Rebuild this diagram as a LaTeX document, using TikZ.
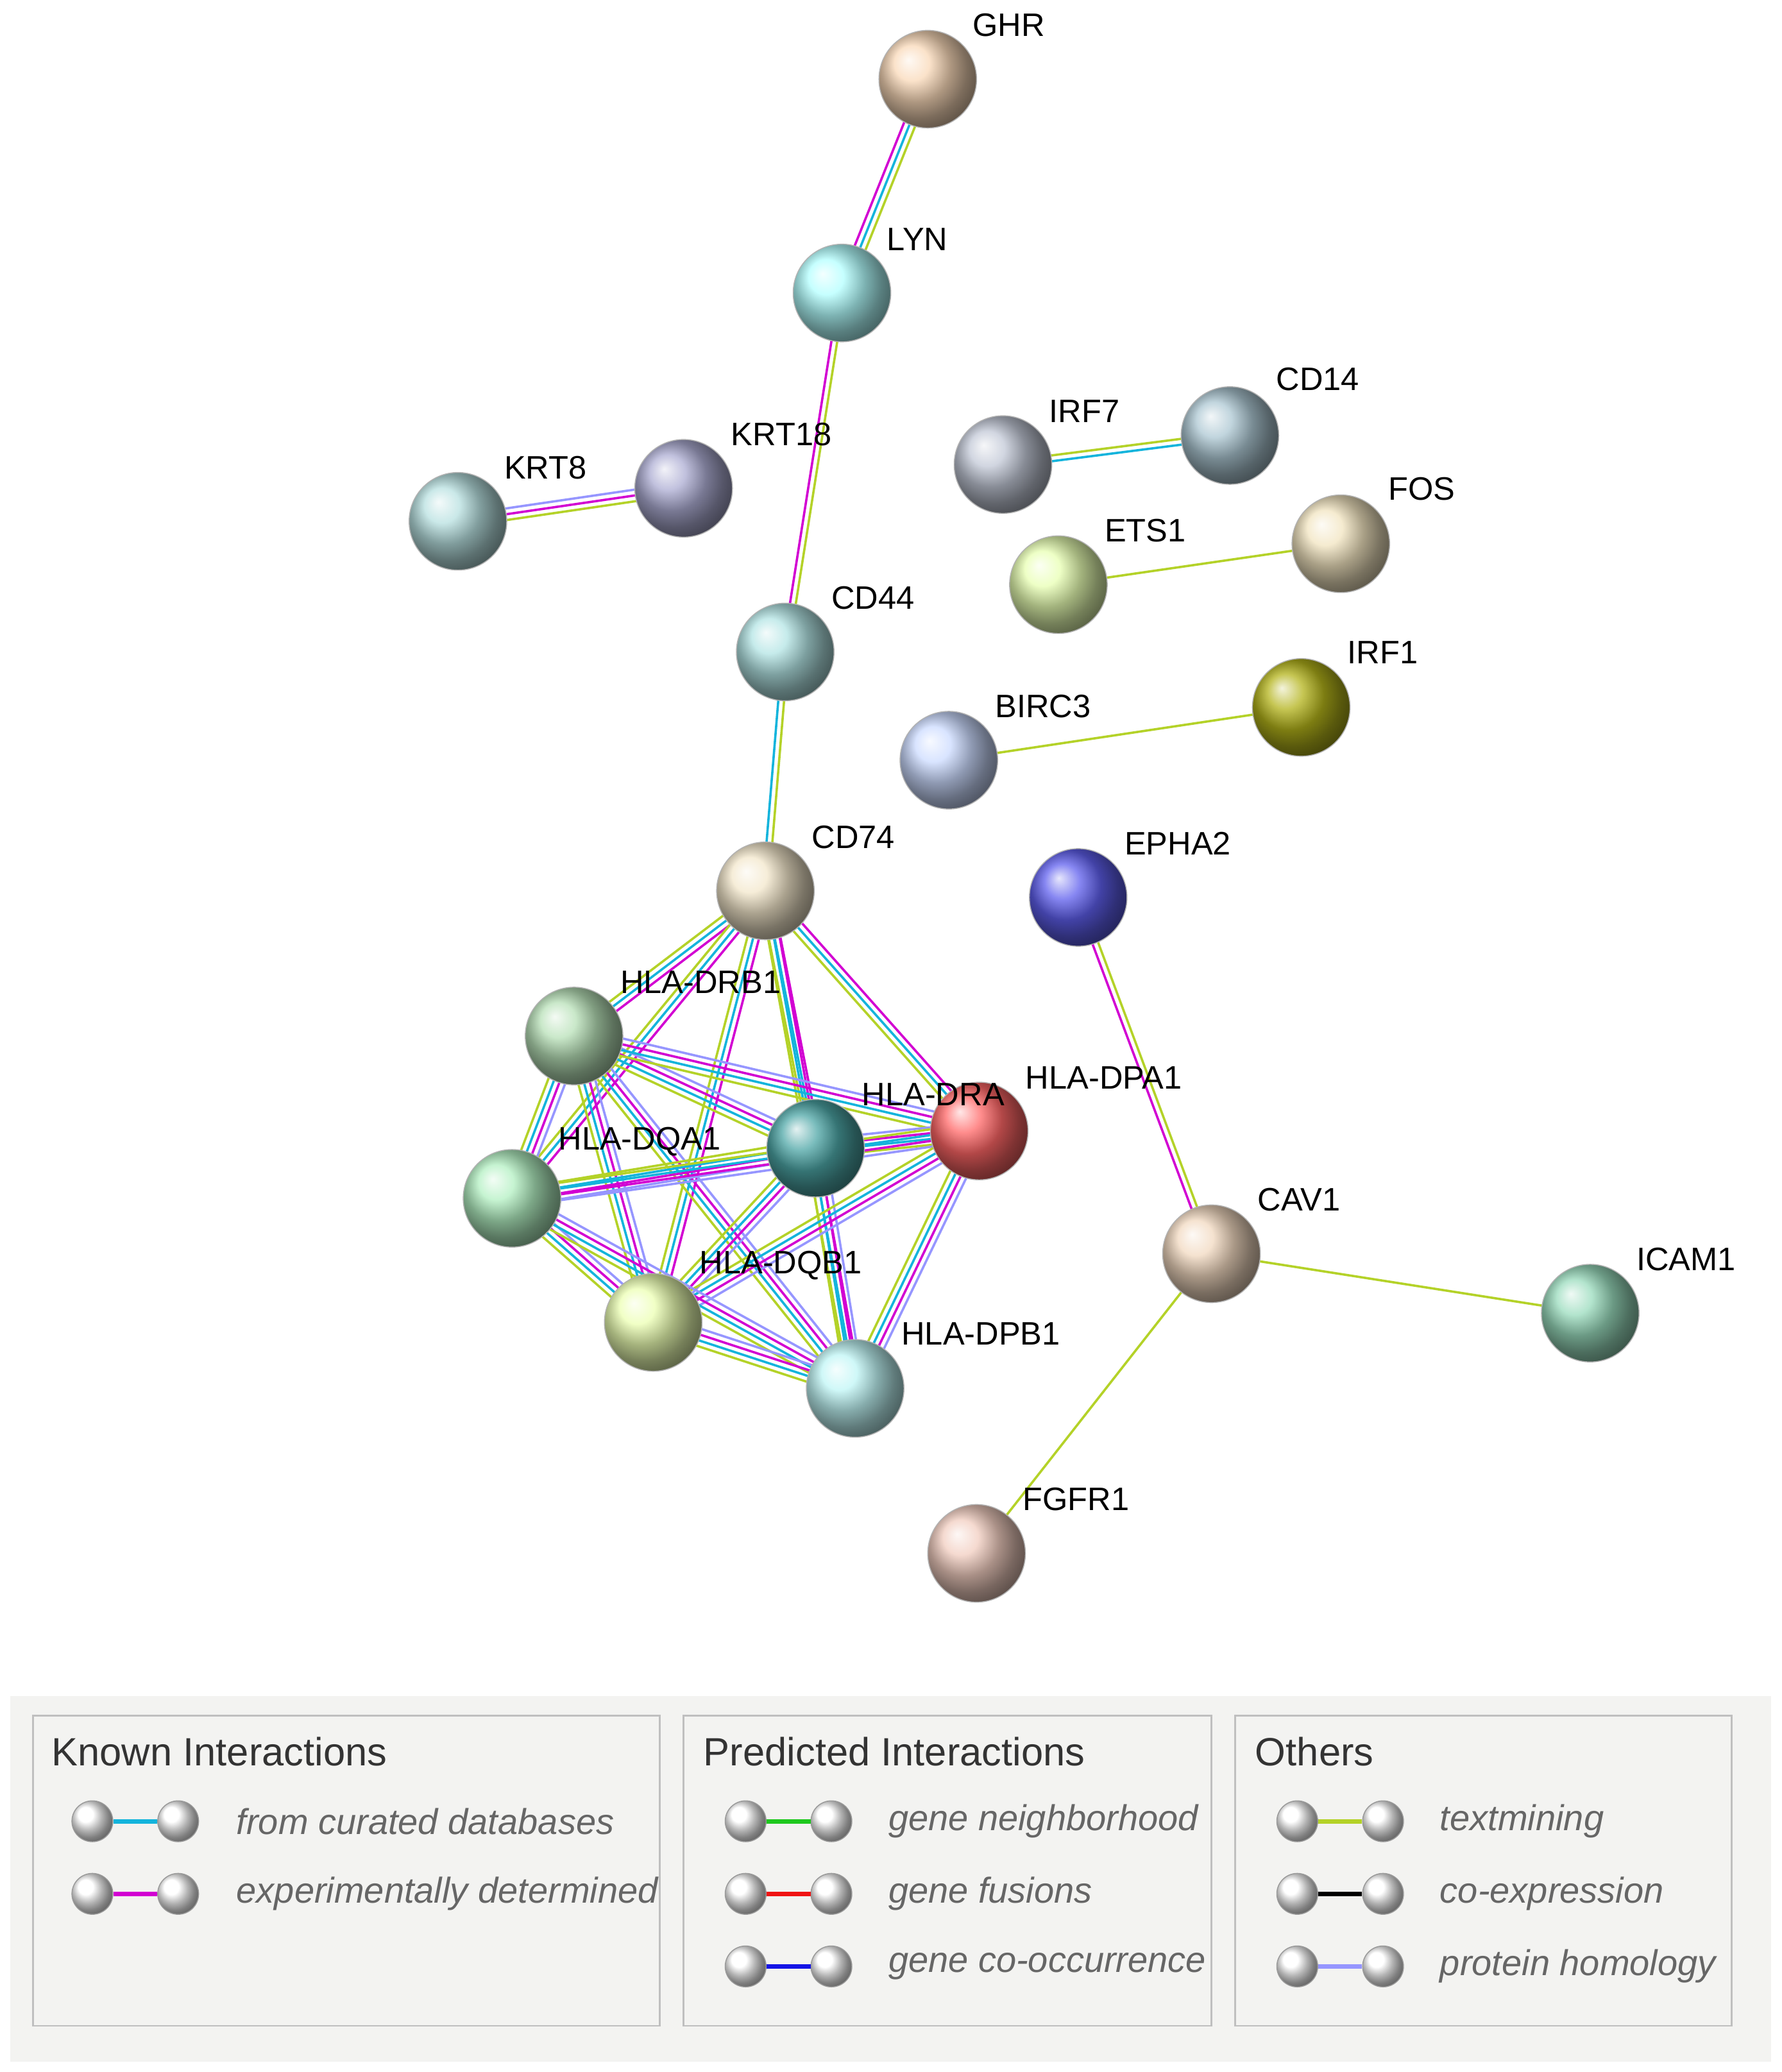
\documentclass[tikz,border=0pt]{standalone}
\usepackage{fontspec}
\setmainfont{Liberation Sans}
\usetikzlibrary{calc}
\definecolor{cur}{RGB}{20,180,220}
\definecolor{xpd}{RGB}{210,0,210}
\definecolor{tmg}{RGB}{180,210,40}
\definecolor{hom}{RGB}{150,150,255}
\definecolor{gnb}{RGB}{30,200,30}
\definecolor{gfu}{RGB}{240,20,20}
\definecolor{gco}{RGB}{20,20,230}
\definecolor{bg}{RGB}{243,243,241}
\tikzset{
 prot/.style={circle,minimum size=1.48cm,inner sep=0,shading=ball,ball color=#1,draw=black!30,line width=0.4pt},
 lab/.style={font=\fontsize{14}{16}\selectfont,anchor=south west,inner sep=1pt},
 lball/.style={circle,minimum size=0.62cm,inner sep=0,shading=ball,ball color=white,draw=black!40},
 ltitle/.style={font=\fontsize{17}{20}\selectfont,text=black!80,anchor=west},
 litem/.style={font=\fontsize{15.5}{20}\selectfont\itshape,text=black!60,anchor=west},
 box/.style={draw=black!25,fill=bg,line width=0.8pt}
}
\newcommand\lnk[4]{\foreach \c [count=\i] in {#4}{\pgfmathsetmacro\o{(\i-(#3+1)/2)*2.5}
 \draw[\c,line width=1pt] ($(#1)!\o pt!90:(#2)$) -- ($(#2)!\o pt!-90:(#1)$);}}
\begin{document}
\begin{tikzpicture}[x=0.02cm,y=-0.02cm]
\useasboundingbox (0,0) rectangle (1350,1570);
\fill[white] (0,0) rectangle (1350,1570);
\foreach \n/\x/\y in {GHR/703/60,LYN/638/222,KRT18/518/370,KRT8/347/395,IRF7/760/352,CD14/932/330,ETS1/802/443,FOS/1016/412,CD44/595/494,IRF1/986/536,BIRC3/719/576,CD74/580/675,EPHA2/817/680,DRB1/435/785,DRA/618/870,DPA1/742/857,DQA1/388/908,CAV1/918/950,ICAM1/1205/995,DQB1/495/1002,DPB1/648/1052,FGFR1/740/1177}
 \coordinate (\n) at (\x,\y);
\lnk{GHR}{LYN}{3}{xpd,cur,tmg}
\lnk{LYN}{CD44}{2}{xpd,tmg}
\lnk{KRT8}{KRT18}{3}{tmg,xpd,hom}
\lnk{IRF7}{CD14}{2}{cur,tmg}
\lnk{ETS1}{FOS}{1}{tmg}
\lnk{BIRC3}{IRF1}{1}{tmg}
\lnk{CD44}{CD74}{2}{cur,tmg}
\lnk{EPHA2}{CAV1}{2}{xpd,tmg}
\lnk{CAV1}{ICAM1}{1}{tmg}
\lnk{CAV1}{FGFR1}{1}{tmg}
\foreach \b in {DRB1,DRA,DPA1,DQA1,DQB1,DPB1}{\lnk{CD74}{\b}{3}{tmg,cur,xpd}}
\foreach \a/\b in {DRB1/DRA,DRB1/DPA1,DRB1/DQA1,DRB1/DQB1,DRB1/DPB1,DRA/DPA1,DRA/DQA1,DRA/DQB1,DRA/DPB1,DPA1/DQA1,DPA1/DQB1,DPA1/DPB1,DQA1/DQB1,DQA1/DPB1,DQB1/DPB1}{\lnk{\a}{\b}{4}{tmg,cur,xpd,hom}}
\node[prot={brown!30!orange!30!white}] (nGHR) at (GHR) {};
\node[prot={cyan!30!white}] (nLYN) at (LYN) {};
\node[prot={blue!30!gray!50!white}] (nKRT18) at (KRT18) {};
\node[prot={cyan!40!gray!40!white}] (nKRT8) at (KRT8) {};
\node[prot={cyan!30!blue!20!gray!40!white}] (nIRF7) at (IRF7) {};
\node[prot={blue!30!cyan!30!gray!50!white}] (nCD14) at (CD14) {};
\node[prot={green!30!yellow!30!white}] (nETS1) at (ETS1) {};
\node[prot={yellow!30!brown!30!white}] (nFOS) at (FOS) {};
\node[prot={cyan!30!teal!30!white}] (nCD44) at (CD44) {};
\node[prot={olive!60!white}] (nIRF1) at (IRF1) {};
\node[prot={cyan!30!blue!20!white}] (nBIRC3) at (BIRC3) {};
\node[prot={yellow!25!brown!25!white}] (nCD74) at (CD74) {};
\node[prot={blue!80!gray!70!white}] (nEPHA2) at (EPHA2) {};
\node[prot={green!40!gray!40!white}] (nDRB1) at (DRB1) {};
\node[prot={teal!70!white}] (nDRA) at (DRA) {};
\node[prot={red!60!white}] (nDPA1) at (DPA1) {};
\node[prot={teal!40!green!30!white}] (nDQA1) at (DQA1) {};
\node[prot={orange!30!brown!30!white}] (nCAV1) at (CAV1) {};
\node[prot={green!30!teal!40!white}] (nICAM1) at (ICAM1) {};
\node[prot={green!25!yellow!30!white}] (nDQB1) at (DQB1) {};
\node[prot={teal!30!cyan!25!white}] (nDPB1) at (DPB1) {};
\node[prot={red!30!brown!30!white}] (nFGFR1) at (FGFR1) {};
\foreach \t/\x/\y in {GHR/735/30,LYN/670/192,KRT18/552/340,KRT8/380/365,IRF7/793/322,CD14/965/298,ETS1/835/413,FOS/1050/381,CD44/628/464,IRF1/1019/505,BIRC3/752/546,CD74/613/645,EPHA2/850/650,HLA-DRB1/468/755,HLA-DRA/651/840,HLA-DPA1/775/827,HLA-DQA1/421/878,CAV1/951/920,ICAM1/1238/965,HLA-DQB1/528/972,HLA-DPB1/681/1021,FGFR1/773/1147}
 \node[lab] (l\t) at (\x,\y) {\t};
\fill[bg] (8,1285) rectangle (1342,1562);
\draw[box] (25,1300) rectangle (500,1535);
\draw[box] (518,1300) rectangle (918,1535);
\draw[box] (936,1300) rectangle (1312,1535);
\node[ltitle] (t1) at (33,1327) {Known Interactions};
\node[ltitle] (t2) at (527,1327) {Predicted Interactions};
\node[ltitle] (t3) at (945,1327) {Others};
\newcommand\leg[4]{\node[lball] (la#4) at (#1,#2) {}; \node[lball] (lb#4) at ($(#1,#2)+(65,0)$) {};
 \draw[#3,line width=2pt] (la#4) -- (lb#4);}
\leg{70}{1380}{cur}{1} \node[litem] at (173,1380) {from curated databases};
\leg{70}{1435}{xpd}{2} \node[litem] at (173,1435) {experimentally determined};
\leg{565}{1380}{gnb}{3} \node[litem] at (667,1380) {gene neighborhood};
\leg{565}{1435}{gfu}{4} \node[litem] at (667,1435) {gene fusions};
\leg{565}{1490}{gco}{5} \node[litem] at (667,1490) {gene co-occurrence};
\leg{983}{1380}{tmg}{6} \node[litem] at (1085,1380) {textmining};
\leg{983}{1435}{black}{7} \node[litem] at (1085,1435) {co-expression};
\leg{983}{1490}{hom}{8} \node[litem] at (1085,1490) {protein homology};
\end{tikzpicture}
\end{document}
